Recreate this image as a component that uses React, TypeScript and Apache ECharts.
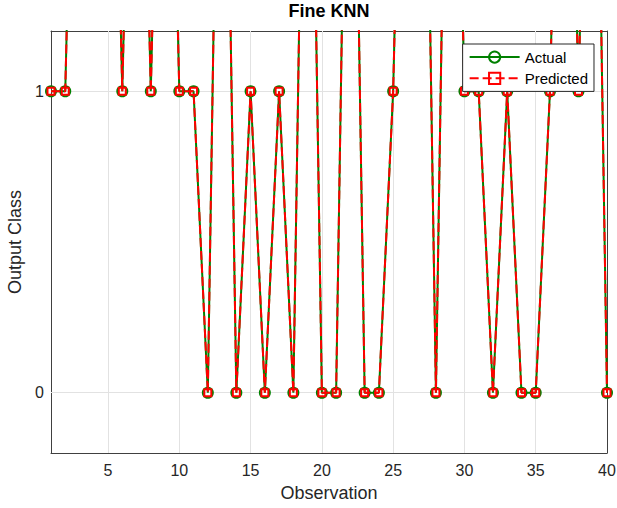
import React, { useEffect, useRef } from 'react';
import * as echarts from 'echarts';

const observations = [1, 2, 3, 4, 5, 6, 7, 8, 9, 10, 11, 12, 13, 14, 15, 16, 17, 18, 19, 20, 21, 22, 23, 24, 25, 26, 27, 28, 29, 30, 31, 32, 33, 34, 35, 36, 37, 38, 39, 40];
const actual = [1, 1, 3, 3, 3, 1, 3, 1, 3, 1, 1, 0, 3, 0, 1, 0, 1, 0, 3, 0, 0, 3, 0, 0, 1, 3, 3, 0, 3, 1, 1, 0, 1, 0, 0, 1, 3, 1, 3, 0];
const predicted = [1, 1, 3, 3, 3, 1, 3, 1, 3, 1, 1, 0, 3, 0, 1, 0, 1, 0, 3, 0, 0, 3, 0, 0, 1, 3, 3, 0, 3, 1, 1, 0, 1, 0, 0, 1, 3, 1, 3, 0];
const xTicks = [5, 10, 15, 20, 25, 30, 35, 40];
const yTicks = [0, 1];

const FONT = '"Liberation Sans", Arial, Helvetica, sans-serif';
const AXIS_COLOR = '#404040';
const TEXT_COLOR = '#262626';

export default function App() {
  const ref = useRef<HTMLDivElement>(null);
  useEffect(() => {
    if (!ref.current) return;
    const chart = echarts.init(ref.current, undefined, { renderer: 'svg' });
    const xBase = {
      type: 'value',
      min: 1,
      max: 40,
      axisLine: { show: true, onZero: false, lineStyle: { color: AXIS_COLOR, width: 1 } },
      axisTick: { show: true, inside: true, length: 5, customValues: xTicks, lineStyle: { color: AXIS_COLOR } },
      splitLine: { show: false },
    };
    const yBase = {
      type: 'value',
      min: -0.2,
      max: 1.2,
      axisLine: { show: true, onZero: false, lineStyle: { color: AXIS_COLOR, width: 1 } },
      axisTick: { show: true, inside: true, length: 5, customValues: yTicks, lineStyle: { color: AXIS_COLOR } },
      splitLine: { show: false },
    };
    chart.setOption({
      animation: false,
      backgroundColor: '#ffffff',
      title: {
        text: 'Fine KNN',
        left: 324,
        top: 0,
        padding: [2, 5, 5, 5],
        textAlign: 'center',
        textStyle: { fontFamily: FONT, fontSize: 18, fontWeight: 'bold', color: '#000000' },
      },
      grid: { left: 51, right: 10, top: 31, bottom: 55, containLabel: false, outerBoundsMode: 'none' },
      legend: {
        data: ['Actual', 'Predicted'],
        orient: 'vertical',
        right: 23,
        top: 44,
        z: 20,
        padding: [5, 6],
        itemWidth: 50,
        itemHeight: 14,
        itemGap: 5,
        backgroundColor: '#ffffff',
        borderColor: TEXT_COLOR,
        borderWidth: 1,
        borderRadius: 0,
        textStyle: { fontFamily: FONT, fontSize: 15, color: '#000000' },
      },
      xAxis: [
        {
          ...xBase,
          position: 'bottom',
          name: 'Observation',
          nameLocation: 'middle',
          nameGap: 31,
          nameTextStyle: { fontFamily: FONT, fontSize: 18, color: TEXT_COLOR },
          axisLabel: { show: true, customValues: xTicks, margin: 9, fontFamily: FONT, fontSize: 16, color: TEXT_COLOR },
        },
        {
          ...xBase,
          position: 'top',
          axisLabel: { show: false },
        },
      ],
      yAxis: [
        {
          ...yBase,
          position: 'left',
          name: 'Output Class',
          nameLocation: 'middle',
          nameGap: 21,
          nameTextStyle: { fontFamily: FONT, fontSize: 18, color: TEXT_COLOR },
          axisLabel: { show: true, customValues: yTicks, margin: 7, fontFamily: FONT, fontSize: 16, color: TEXT_COLOR },
        },
        {
          ...yBase,
          position: 'right',
          axisLabel: { show: false },
        },
      ],
      series: [
        {
          name: 'grid',
          type: 'line',
          data: [],
          z: 1,
          silent: true,
          markLine: {
            silent: true,
            z: 1,
            symbol: 'none',
            label: { show: false },
            lineStyle: { color: '#e2e2e2', width: 1, type: 'solid' },
            emphasis: { disabled: true },
            data: [
              ...xTicks.filter((v) => v < 40).map((v) => ({ xAxis: v })),
              ...yTicks.map((v) => ({ yAxis: v })),
            ],
          },
        },
        {
          name: 'Actual',
          type: 'line',
          z: 3,
          data: observations.map((x, i) => [x, actual[i]]),
          symbol: 'circle',
          symbolSize: 10,
          showSymbol: true,
          clip: true,
          lineStyle: { color: '#008000', width: 2, type: 'solid' },
          itemStyle: { color: 'none', borderColor: '#008000', borderWidth: 2 },
          emphasis: { disabled: true },
        },
        {
          name: 'Predicted',
          type: 'line',
          z: 4,
          data: observations.map((x, i) => [x, predicted[i]]),
          symbol: 'rect',
          symbolSize: 7,
          showSymbol: true,
          clip: true,
          lineStyle: { color: '#ff0000', width: 2, type: [9, 4] },
          itemStyle: { color: 'none', borderColor: '#ff0000', borderWidth: 2 },
          emphasis: { disabled: true },
        },
      ],
    });
    return () => chart.dispose();
  }, []);
  return <div ref={ref} style={{ width: 617, height: 508, position: 'absolute', left: 0, top: 0 }} />;
}
